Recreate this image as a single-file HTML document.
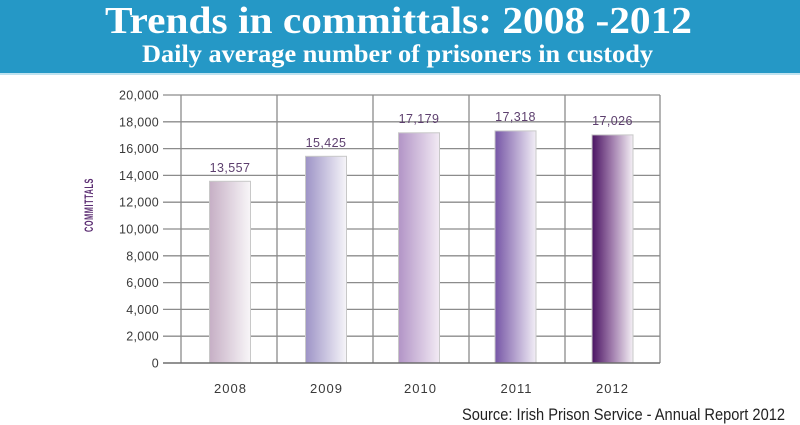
<!DOCTYPE html>
<html>
<head>
<meta charset="utf-8">
<style>
html,body{margin:0;padding:0;background:#fff;}
svg{display:block;}
</style>
</head>
<body>
<svg width="800" height="425" viewBox="0 0 800 425" xmlns="http://www.w3.org/2000/svg">
<defs>
<linearGradient id="g1" x1="0" x2="1" y1="0" y2="0"><stop offset="0" stop-color="#c6afc5"/><stop offset="1" stop-color="#f8f6f8"/></linearGradient>
<linearGradient id="g2" x1="0" x2="1" y1="0" y2="0"><stop offset="0" stop-color="#9d93c6"/><stop offset="1" stop-color="#f6f5f9"/></linearGradient>
<linearGradient id="g3" x1="0" x2="1" y1="0" y2="0"><stop offset="0" stop-color="#b294c6"/><stop offset="1" stop-color="#f2eaf4"/></linearGradient>
<linearGradient id="g4" x1="0" x2="1" y1="0" y2="0"><stop offset="0" stop-color="#7656a6"/><stop offset="1" stop-color="#f2eef6"/></linearGradient>
<linearGradient id="g5" x1="0" x2="1" y1="0" y2="0"><stop offset="0" stop-color="#4a1362"/><stop offset="0.5" stop-color="#a27fae"/><stop offset="1" stop-color="#f4eff5"/></linearGradient>
</defs>

<!-- header -->
<rect x="0" y="0" width="800" height="73" fill="#2598c6"/>
<rect x="0" y="73" width="800" height="2" fill="#bfe2ef"/>
<text x="105" y="33" font-family="Liberation Serif, serif" font-weight="bold" font-size="38" fill="#fff" textLength="587" lengthAdjust="spacingAndGlyphs">Trends in committals: 2008 -2012</text>
<text x="142" y="62" font-family="Liberation Serif, serif" font-weight="bold" font-size="25" fill="#fff" textLength="511" lengthAdjust="spacingAndGlyphs">Daily average number of prisoners in custody</text>

<!-- grid -->
<g stroke="#8c8c8c" stroke-width="1.3" fill="none">
<line x1="163" y1="95" x2="660" y2="95"/>
<line x1="163" y1="121.8" x2="660" y2="121.8"/>
<line x1="163" y1="148.6" x2="660" y2="148.6"/>
<line x1="163" y1="175.4" x2="660" y2="175.4"/>
<line x1="163" y1="202.2" x2="660" y2="202.2"/>
<line x1="163" y1="229" x2="660" y2="229"/>
<line x1="163" y1="255.8" x2="660" y2="255.8"/>
<line x1="163" y1="282.6" x2="660" y2="282.6"/>
<line x1="163" y1="309.4" x2="660" y2="309.4"/>
<line x1="163" y1="336.2" x2="660" y2="336.2"/>
<line x1="181" y1="95" x2="181" y2="363"/>
<line x1="277" y1="95" x2="277" y2="363"/>
<line x1="373" y1="95" x2="373" y2="363"/>
<line x1="469" y1="95" x2="469" y2="363"/>
<line x1="565" y1="95" x2="565" y2="363"/>
<line x1="660" y1="95" x2="660" y2="363"/>
</g>

<!-- bars -->
<g stroke="#c8c8c8" stroke-width="1">
<rect x="209.5" y="181.3" width="41" height="181.7" fill="url(#g1)"/>
<rect x="305.5" y="156.3" width="41" height="206.7" fill="url(#g2)"/>
<rect x="398.5" y="132.8" width="41" height="230.2" fill="url(#g3)"/>
<rect x="495" y="130.9" width="41" height="232.1" fill="url(#g4)"/>
<rect x="592" y="134.9" width="41" height="228.1" fill="url(#g5)"/>
</g>
<line x1="163" y1="363" x2="660" y2="363" stroke="#6e6e6e" stroke-width="1.5"/>

<!-- value labels -->
<g font-family="Liberation Sans, sans-serif" font-size="12.5" fill="#5d3f6e" text-anchor="middle" letter-spacing="0.4">
<text x="230" y="172">13,557</text>
<text x="326" y="147">15,425</text>
<text x="419" y="123">17,179</text>
<text x="515.5" y="121">17,318</text>
<text x="612.5" y="125">17,026</text>
</g>

<!-- y ticks -->
<g font-family="Liberation Sans, sans-serif" font-size="12.5" fill="#3a3a3a" text-anchor="end" letter-spacing="0.3">
<text x="159" y="99.5">20,000</text>
<text x="159" y="126.3">18,000</text>
<text x="159" y="153.1">16,000</text>
<text x="159" y="179.9">14,000</text>
<text x="159" y="206.7">12,000</text>
<text x="159" y="233.5">10,000</text>
<text x="159" y="260.3">8,000</text>
<text x="159" y="287.1">6,000</text>
<text x="159" y="313.9">4,000</text>
<text x="159" y="340.7">2,000</text>
<text x="159" y="367.5">0</text>
</g>

<!-- x labels -->
<g font-family="Liberation Sans, sans-serif" font-size="13" fill="#3a3a3a" text-anchor="middle" letter-spacing="1">
<text x="230.5" y="393">2008</text>
<text x="326.5" y="393">2009</text>
<text x="420.5" y="393">2010</text>
<text x="516.5" y="393">2011</text>
<text x="612.5" y="393">2012</text>
</g>

<!-- y axis title -->
<text transform="translate(93,232) rotate(-90)" x="0" y="0" font-family="Liberation Sans, sans-serif" font-weight="bold" font-size="12" letter-spacing="1" fill="#5b2d72" textLength="54" lengthAdjust="spacingAndGlyphs">COMMITTALS</text>

<!-- source -->
<text x="462" y="420" font-family="Liberation Sans, sans-serif" font-size="17" fill="#222" textLength="323" lengthAdjust="spacingAndGlyphs">Source: Irish Prison Service - Annual Report 2012</text>
</svg>
</body>
</html>
